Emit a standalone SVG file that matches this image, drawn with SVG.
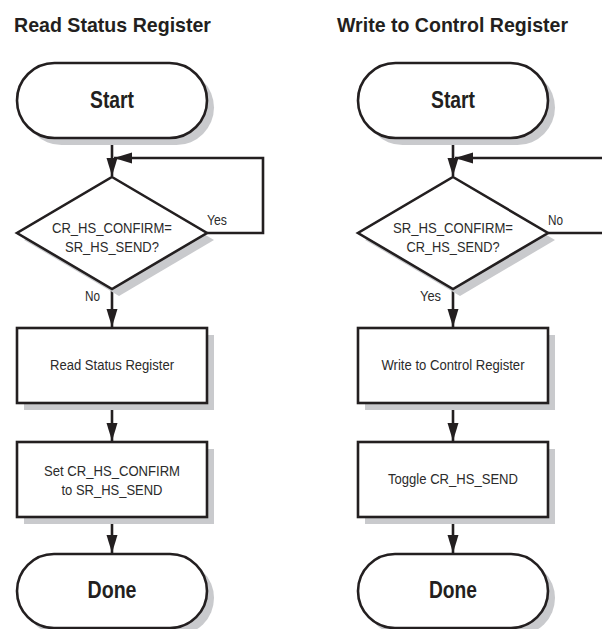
<svg xmlns="http://www.w3.org/2000/svg" width="602" height="629" viewBox="0 0 602 629">
<style>
.shape{fill:#ffffff;stroke:#231f20;stroke-width:2.6}
.shadow{fill:#c9cacd}
.conn{fill:none;stroke:#231f20;stroke-width:2.6}
text{font-family:"Liberation Sans",Arial,sans-serif;fill:#231f20}
.title{font-size:21px;font-weight:bold}
.term{font-size:23px;font-weight:bold;text-anchor:middle}
.lbl{font-size:15.5px;text-anchor:middle;fill:#2b2b2b}
.small{font-size:14px;fill:#2b2b2b}
</style>
<defs>
<marker id="arr" markerUnits="userSpaceOnUse" markerWidth="19" markerHeight="12" refX="18" refY="5.5" orient="auto">
<path d="M0,0 L18,5.5 L0,11 z" fill="#231f20"/>
</marker>
</defs>
<rect width="602" height="629" fill="#ffffff"/>

<text class="title" x="14" y="32" textLength="197" lengthAdjust="spacingAndGlyphs">Read Status Register</text>
<text class="title" x="337" y="32" textLength="231" lengthAdjust="spacingAndGlyphs">Write to Control Register</text>

<g id="connectors">
<path class="conn" d="M112,138 V176" marker-end="url(#arr)"/>
<path class="conn" d="M207,233 H263 V158 H114" marker-end="url(#arr)"/>
<path class="conn" d="M112,289 V327" marker-end="url(#arr)"/>
<path class="conn" d="M112,403 V441" marker-end="url(#arr)"/>
<path class="conn" d="M112,517 V553" marker-end="url(#arr)"/>
<path class="conn" d="M453,138 V176" marker-end="url(#arr)"/>
<path class="conn" d="M548,233 H612 V158 H455" marker-end="url(#arr)"/>
<path class="conn" d="M453,289 V327" marker-end="url(#arr)"/>
<path class="conn" d="M453,403 V441" marker-end="url(#arr)"/>
<path class="conn" d="M453,517 V553" marker-end="url(#arr)"/>
</g>

<g id="start-left">
<rect class="shadow" x="24" y="70" width="190" height="75" rx="37.5"/>
<rect class="shape" x="17" y="63" width="190" height="75" rx="37.5"/>
<text class="term" x="112" y="108" textLength="44" lengthAdjust="spacingAndGlyphs">Start</text>
</g>
<g id="decision-left">
<path class="shadow" d="M119,184 L214,240 L119,296 L24,240 z"/>
<path class="shape" d="M112,177 L207,233 L112,289 L17,233 z"/>
<text class="lbl" x="112" y="233" textLength="120" lengthAdjust="spacingAndGlyphs">CR_HS_CONFIRM=</text>
<text class="lbl" x="112" y="252" textLength="94" lengthAdjust="spacingAndGlyphs">SR_HS_SEND?</text>
</g>
<text class="small" x="207" y="225" textLength="20" lengthAdjust="spacingAndGlyphs">Yes</text>
<text class="small" x="85" y="301" textLength="15" lengthAdjust="spacingAndGlyphs">No</text>
<g id="read-status">
<rect class="shadow" x="24" y="335" width="190" height="75"/>
<rect class="shape" x="17" y="328" width="190" height="75"/>
<text class="lbl" x="112" y="370" textLength="124" lengthAdjust="spacingAndGlyphs">Read Status Register</text>
</g>
<g id="set-confirm">
<rect class="shadow" x="24" y="449" width="190" height="75"/>
<rect class="shape" x="17" y="442" width="190" height="75"/>
<text class="lbl" x="112" y="476" textLength="136" lengthAdjust="spacingAndGlyphs">Set CR_HS_CONFIRM</text>
<text class="lbl" x="112" y="495" textLength="101" lengthAdjust="spacingAndGlyphs">to SR_HS_SEND</text>
</g>
<g id="done-left">
<rect class="shadow" x="24" y="561" width="190" height="74" rx="37"/>
<rect class="shape" x="17" y="554" width="190" height="74" rx="37"/>
<text class="term" x="112" y="598" textLength="49" lengthAdjust="spacingAndGlyphs">Done</text>
</g>

<g id="start-right">
<rect class="shadow" x="365" y="70" width="190" height="75" rx="37.5"/>
<rect class="shape" x="358" y="63" width="190" height="75" rx="37.5"/>
<text class="term" x="453" y="108" textLength="44" lengthAdjust="spacingAndGlyphs">Start</text>
</g>
<g id="decision-right">
<path class="shadow" d="M460,184 L555,240 L460,296 L365,240 z"/>
<path class="shape" d="M453,177 L548,233 L453,289 L358,233 z"/>
<text class="lbl" x="453" y="233" textLength="120" lengthAdjust="spacingAndGlyphs">SR_HS_CONFIRM=</text>
<text class="lbl" x="453" y="252" textLength="93" lengthAdjust="spacingAndGlyphs">CR_HS_SEND?</text>
</g>
<text class="small" x="548" y="225" textLength="15" lengthAdjust="spacingAndGlyphs">No</text>
<text class="small" x="420" y="301" textLength="21" lengthAdjust="spacingAndGlyphs">Yes</text>
<g id="write-control">
<rect class="shadow" x="365" y="335" width="190" height="75"/>
<rect class="shape" x="358" y="328" width="190" height="75"/>
<text class="lbl" x="453" y="370" textLength="143" lengthAdjust="spacingAndGlyphs">Write to Control Register</text>
</g>
<g id="toggle-send">
<rect class="shadow" x="365" y="449" width="190" height="75"/>
<rect class="shape" x="358" y="442" width="190" height="75"/>
<text class="lbl" x="453" y="484" textLength="130" lengthAdjust="spacingAndGlyphs">Toggle CR_HS_SEND</text>
</g>
<g id="done-right">
<rect class="shadow" x="365" y="561" width="190" height="74" rx="37"/>
<rect class="shape" x="358" y="554" width="190" height="74" rx="37"/>
<text class="term" x="453" y="598" textLength="48" lengthAdjust="spacingAndGlyphs">Done</text>
</g>
</svg>
